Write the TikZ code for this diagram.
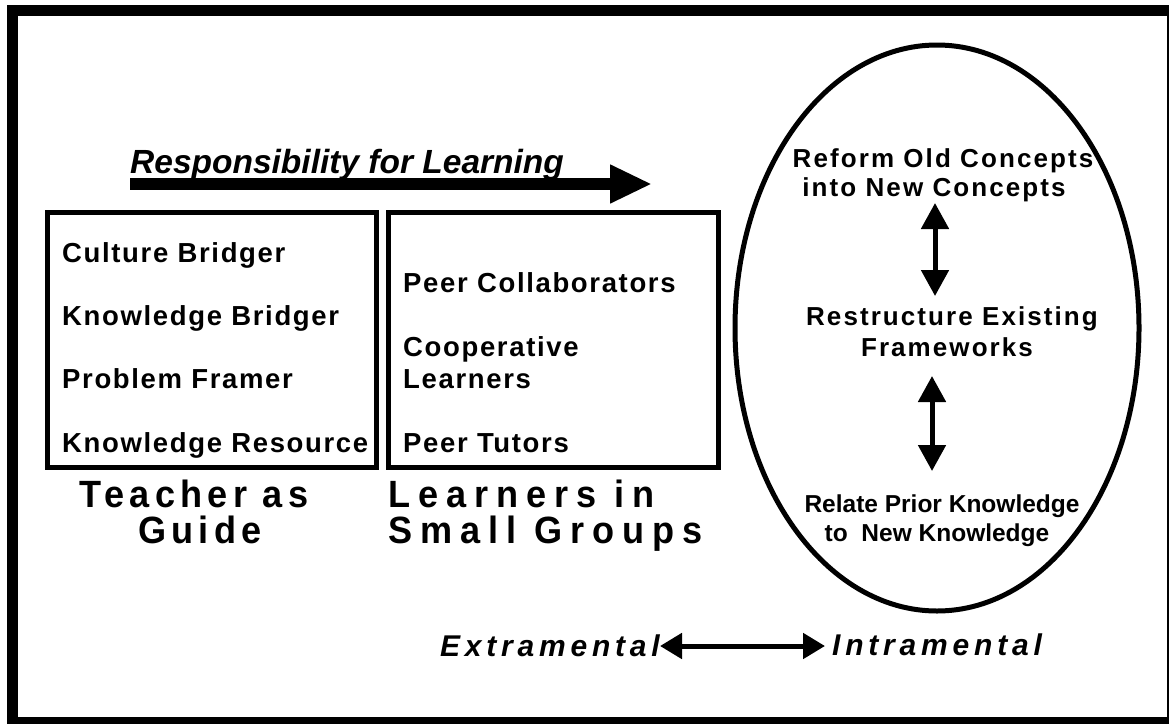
\documentclass[tikz,border=0pt]{standalone}
\usepackage{fontspec}
\setmainfont{Liberation Sans}
\usetikzlibrary{arrows.meta,shapes.geometric}
\newfontfamily\boxfont{Liberation Sans}[BoldFont=* Bold,LetterSpace=6]
\newfontfamily\ellfont{Liberation Sans}[BoldFont=* Bold,LetterSpace=8]
\newfontfamily\teachfont{Liberation Sans}[BoldFont=* Bold,LetterSpace=14,FakeStretch=0.95]
\newfontfamily\learnfont{Liberation Sans}[BoldFont=* Bold,LetterSpace=21,FakeStretch=0.95]
\newfontfamily\mentfont{Liberation Sans}[BoldFont=* Bold,BoldItalicFont=* Bold Italic,LetterSpace=16]
\begin{document}
\begin{tikzpicture}[x=1pt,y=-1pt,
  frame/.style={draw=black,line width=5pt,inner sep=0pt},
  item/.style={anchor=base west,inner sep=0pt,font=\boxfont\bfseries\fontsize{27.5}{30}\selectfont},
  ell/.style={anchor=base,inner sep=0pt,font=\ellfont\bfseries\fontsize{26}{30}\selectfont},
  rel/.style={anchor=base,inner sep=0pt,font=\bfseries\fontsize{24.5}{30}\selectfont},
  teach/.style={anchor=base,inner sep=0pt,font=\teachfont\bfseries\fontsize{38}{40}\selectfont},
  learn/.style={anchor=base west,inner sep=0pt,font=\learnfont\bfseries\fontsize{38}{40}\selectfont},
  ment/.style={inner sep=0pt,font=\mentfont\bfseries\itshape\fontsize{30}{32}\selectfont},
  bigarrow/.style={line width=12pt,-{Triangle[length=42pt,width=36pt]}},
  dbl/.style={line width=5pt,{Triangle[length=26pt,width=27pt]}-{Triangle[length=26pt,width=27pt]}},
  hdbl/.style={line width=5pt,{Triangle[length=22pt,width=25pt]}-{Triangle[length=22pt,width=25pt]}}
]
\useasboundingbox (0,0) rectangle (1169,723);
\fill[white] (0,0) rectangle (1169,723);
\draw[line width=11pt] (12,10.5) rectangle (1172.5,722.5);

% top arrow
\node[anchor=base west,inner sep=0pt,font=\bfseries\itshape\fontsize{33.5}{36}\selectfont] (resp) at (130,173) {Responsibility for Learning};
\coordinate (ra) at (130,184);
\coordinate (rb) at (652,184);
\draw[bigarrow] (ra) -- (rb);

% boxes
\node[frame,minimum width=329pt,minimum height=255pt] (teachbox) at (211.5,339.5) {};
\node[frame,minimum width=330pt,minimum height=255pt] (learnbox) at (553,339.5) {};

\node[item] (t1) at (62,262) {Culture Bridger};
\node[item] (t2) at (62,325) {Knowledge Bridger};
\node[item] (t3) at (62,388) {Problem Framer};
\node[item] (t4) at (62,452) {Knowledge Resource};

\node[item] (l1) at (403,292) {Peer Collaborators};
\node[item] (l2) at (403,356) {Cooperative};
\node[item] (l3) at (403,388) {Learners};
\node[item] (l4) at (403,452) {Peer Tutors};

\node[teach] (tg1) at (194,507) {Teacher as};
\node[teach] (tg2) at (200,543) {Guide};
\node[learn] (lg1) at (388,507) {Learners in};
\node[learn] (lg2) at (388,543) {Small Groups};

% ellipse
\node[draw,line width=5pt,ellipse,minimum width=404pt,minimum height=566pt,inner sep=0pt] (el) at (937,328) {};
\node[ell] (e1) at (943,167) {Reform Old Concepts};
\node[ell] (e2) at (934,196) {into New Concepts};
\node[ell] (e3) at (952,325) {Restructure Existing};
\node[ell] (e4) at (947,356) {Frameworks};
\node[rel] (e5) at (942,512) {Relate Prior Knowledge};
\node[rel] (e6) at (937,541) {to\ \ New Knowledge};

\coordinate (a1) at (935,203);
\coordinate (a2) at (935,296);
\draw[dbl] (a1) -- (a2);
\coordinate (b1) at (932,376);
\coordinate (b2) at (932,471);
\draw[dbl] (b1) -- (b2);

% bottom
\node[ment,anchor=base east] (ex) at (660,656) {Extramental};
\node[ment,anchor=base west] (in) at (832,655) {Intramental};
\coordinate (x1) at (660,646);
\coordinate (x2) at (825,646);
\draw[hdbl] (x1) -- (x2);
\end{tikzpicture}
\end{document}
